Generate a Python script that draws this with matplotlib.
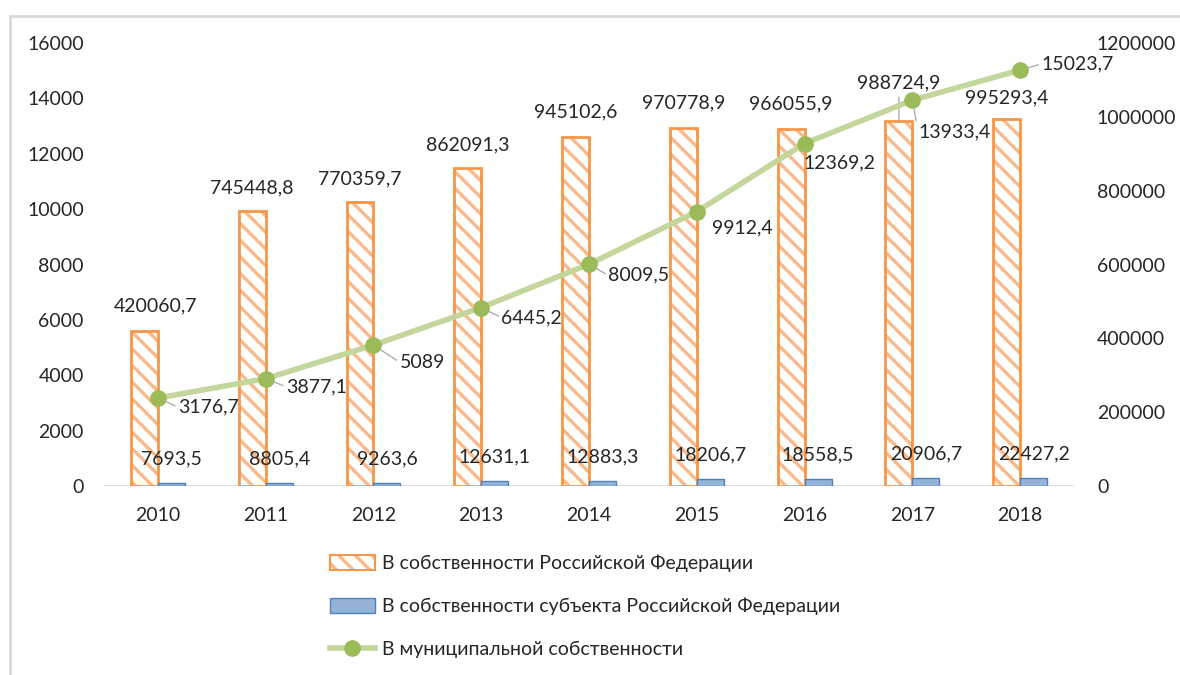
import matplotlib
matplotlib.use("Agg")
import matplotlib.pyplot as plt
import numpy as np
from matplotlib.patches import Patch, Rectangle
from matplotlib.lines import Line2D
from matplotlib.legend_handler import HandlerTuple

plt.rcParams['font.family'] = ['Lato', 'DejaVu Sans']
plt.rcParams['hatch.linewidth'] = 2.4

years = ['2010', '2011', '2012', '2013', '2014', '2015', '2016', '2017', '2018']
federal = [420060.7, 745448.8, 770359.7, 862091.3, 945102.6, 970778.9, 966055.9, 988724.9, 995293.4]
regional = [7693.5, 8805.4, 9263.6, 12631.1, 12883.3, 18206.7, 18558.5, 20906.7, 22427.2]
municipal = [3176.7, 3877.1, 5089, 6445.2, 8009.5, 9912.4, 12369.2, 13933.4, 15023.7]

lbl_fed = ['420060,7', '745448,8', '770359,7', '862091,3', '945102,6', '970778,9', '966055,9', '988724,9', '995293,4']
lbl_reg = ['7693,5', '8805,4', '9263,6', '12631,1', '12883,3', '18206,7', '18558,5', '20906,7', '22427,2']
lbl_mun = ['3176,7', '3877,1', '5089', '6445,2', '8009,5', '9912,4', '12369,2', '13933,4', '15023,7']

leg_fed = 'В собственности Российской Федерации'
leg_reg = 'В собственности субъекта Российской Федерации'
leg_mun = 'В муниципальной собственности'

ORANGE = '#F79646'
ORANGE_L = '#FAB98A'
BLUE_F = '#95B3D7'
BLUE_E = '#4F81BD'
GREEN_L = '#C3D69B'
GREEN_M = '#9BBB59'
TXT = '#262626'
FS = 14

W, H = 1180, 675
fig = plt.figure(figsize=(W / 100, H / 100), dpi=100)
fig.patch.set_facecolor('white')
fig.patches.append(Rectangle((10 / W, -0.05), 1.2, 1.05 - 16 / H, transform=fig.transFigure,
                             fill=False, edgecolor='#D9D9D9', lw=2, clip_on=False))

ax = fig.add_axes([104 / W, 1 - 486 / H, (1074 - 104) / W, (486 - 43) / H])
x = np.arange(len(years))
bw = 0.25

# bars on the right-hand scale
ax.bar(x - bw / 2, federal, bw, facecolor='white', edgecolor=ORANGE_L, hatch='\\\\', lw=0, zorder=2)
ax.bar(x - bw / 2, federal, bw, facecolor='none', edgecolor=ORANGE, lw=2, zorder=3)
ax.bar(x + bw / 2, regional, bw, facecolor=BLUE_F, edgecolor=BLUE_E, lw=1, zorder=3)
ax.set_ylim(0, 1200000)
ax.set_xlim(-0.5, len(years) - 0.5)
ax.set_xticks(x)
ax.set_xticklabels(years)
ax.tick_params(axis='x', length=0, pad=15, labelsize=FS, labelcolor=TXT)
for s in ax.spines.values():
    s.set_visible(False)
ax.axhline(0, color='#D9D9D9', lw=1.2, zorder=1)

fed_dx = [11, 0, 0, 0, 0, 0, 0, 0, 0]
fed_dy = [25, 23, 23, 23, 25, 25, 25, 38, 21]
for i, (v, t) in enumerate(zip(federal, lbl_fed)):
    ax.annotate(t, (x[i] - bw / 2, v), xytext=(fed_dx[i], fed_dy[i]), textcoords='offset pixels',
                ha='center', va='center', fontsize=FS, color=TXT, zorder=6)
# leader line for 2017 federal label
ax.annotate('', (x[7] - bw / 2, federal[7]), xytext=(0, 24), textcoords='offset pixels',
            arrowprops=dict(arrowstyle='-', color='#A6A6A6', lw=0.9, shrinkA=0, shrinkB=0))
for i, (v, t) in enumerate(zip(regional, lbl_reg)):
    ax.annotate(t, (x[i] + bw / 2, v), xytext=(0, 24), textcoords='offset pixels',
                ha='center', va='center', fontsize=FS, color=TXT, zorder=6)

# line on the left-hand scale
ax2 = ax.twinx()
ax2.plot(x, municipal, color=GREEN_L, lw=4, zorder=4, solid_capstyle='round')
ax2.plot(x, municipal, ls='none', marker='o', ms=11, mfc=GREEN_M, mec=GREEN_M, zorder=5)
ax2.set_ylim(0, 16000)
ax2.set_yticks(np.arange(0, 16001, 2000))
for s in ax2.spines.values():
    s.set_visible(False)

# axis sides: line scale on the left, bar scale on the right
ax.yaxis.tick_right()
ax.set_yticks(np.arange(0, 1200001, 200000))
ax.set_yticklabels([f'{v:d}' for v in range(0, 1200001, 200000)])
ax.tick_params(axis='y', which='both', left=False, labelleft=False, right=False, labelright=True,
               length=0, pad=16.5, labelsize=FS, labelcolor=TXT)
ax2.yaxis.tick_left()
ax2.tick_params(axis='y', which='both', right=False, labelright=False, left=False, labelleft=True,
                length=0, pad=14.5, labelsize=FS, labelcolor=TXT)

mun_dx = [20, 20, 26, 20, 19, 15, -1, 6, 21]
mun_dy = [-9, -8, -17, -10, -11, -16, -19, -32, 6]
for i, (v, t) in enumerate(zip(municipal, lbl_mun)):
    ax2.annotate(t, (x[i], v), xytext=(mun_dx[i], mun_dy[i]), textcoords='offset pixels',
                 ha='left', va='center', fontsize=FS, color=TXT, zorder=6,
                 arrowprops=dict(arrowstyle='-', color='#A6A6A6', lw=0.9, shrinkA=0, shrinkB=6,
                                 relpos=(0, 0.5)) if i in (0, 1, 2, 3, 4, 7, 8) else None)

handles = [(Patch(facecolor='white', edgecolor=ORANGE_L, hatch='\\\\', lw=0),
            Patch(facecolor='none', edgecolor=ORANGE, lw=1.5)),
           Patch(facecolor=BLUE_F, edgecolor=BLUE_E, lw=1),
           Line2D([], [], color=GREEN_L, lw=4, marker='o', ms=11, mfc=GREEN_M, mec=GREEN_M)]
fig.legend(handles, [leg_fed, leg_reg, leg_mun], loc='upper left',
           bbox_to_anchor=(330 / W, 1 - 555 / H), frameon=False, fontsize=FS,
           handlelength=2.3, handleheight=0.8, handletextpad=0.4, labelspacing=1.3,
           borderpad=0, borderaxespad=0, labelcolor=TXT,
           handler_map={tuple: HandlerTuple(ndivide=1, pad=0)})

fig.savefig('out.png', dpi=100)
